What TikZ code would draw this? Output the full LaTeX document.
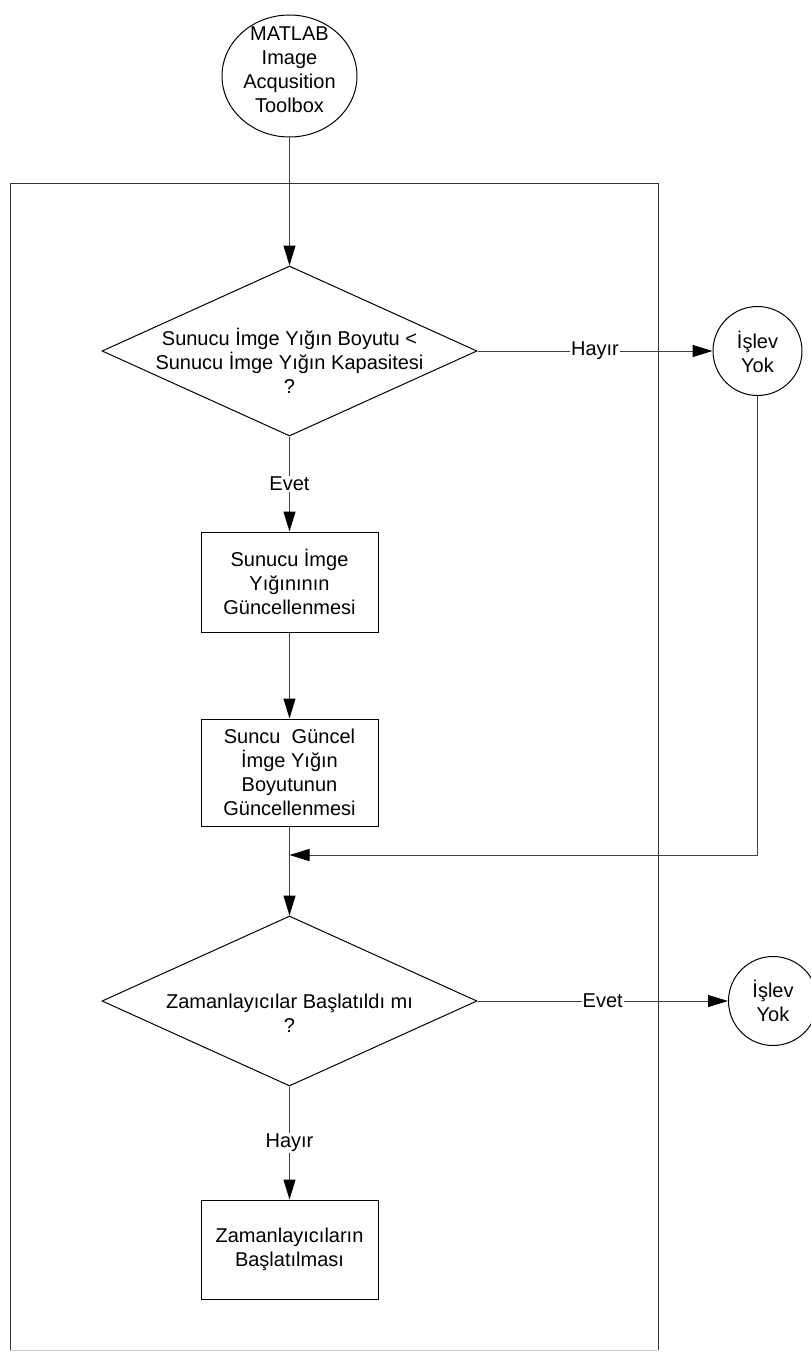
\documentclass[tikz,border=0pt]{standalone}
\usepackage{fontspec}
\setmainfont{Liberation Sans}
\usetikzlibrary{shapes.geometric,arrows.meta}
\begin{document}
\begin{tikzpicture}[x=1pt,y=-1pt,
  every node/.style={font=\fontsize{20}{24}\selectfont, align=center},
  terminal/.style={draw, ellipse, line width=1pt, inner sep=0pt, minimum width=135pt, minimum height=122pt},
  endcircle/.style={draw, circle, line width=1pt, inner sep=0pt, minimum size=89pt},
  decision/.style={draw, diamond, line width=1pt, inner sep=0pt, minimum width=375pt, minimum height=170pt},
  process/.style={draw, rectangle, line width=1pt, inner sep=0pt, minimum width=177pt},
  flow/.style={draw=black!75, line width=1pt, -{Triangle[length=20pt,width=12pt,color=black,fill=black]}},
  edgelabel/.style={fill=white, inner sep=1pt}]

\useasboundingbox (0,0) rectangle (811,1352);

% surrounding frame
\draw[black!80, line width=1pt] (10,1350) -- (10,183) -- (658,183) -- (658,1350);
\draw[black!20, line width=1pt] (10,1350) -- (658,1350);

% start terminal
\node[terminal] (start) at (289.5,76) {};
\node (starttext) at (289.5,70) {MATLAB\\Image\\Acqusition\\Toolbox};

% first decision
\node[decision] (d1) at (289.5,351) {};
\node (d1text) at (289.5,361) {Sunucu İmge Yığın Boyutu <\\Sunucu İmge Yığın Kapasitesi\\?};

% no-operation end points
\node[endcircle] (nf1) at (757.5,351) {};
\node (nf1text) at (757.5,352) {İşlev\\Yok};

% process boxes
\node[process, minimum height=100pt] (p1) at (289.5,582) {Sunucu İmge\\Yığınının\\Güncellenmesi};
\node[process, minimum height=107pt] (p2) at (289.5,772.5) {Suncu\ \ Güncel\\İmge Yığın\\Boyutunun\\Güncellenmesi};

% second decision
\node[decision] (d2) at (289.5,1001) {};
\node (d2text) at (289.5,1013) {Zamanlayıcılar Başlatıldı mı\\?};

\node[endcircle] (nf2) at (773,1001) {};
\node (nf2text) at (773,1001) {İşlev\\Yok};

\node[process, minimum height=99pt] (p3) at (289.5,1249.5) {Zamanlayıcıların\\Başlatılması};

\coordinate (merge) at (289.5,855);

% connectors
\draw[flow] (start) -- (d1.north);
\draw[flow] (d1.east) -- node[edgelabel]{Hayır} (nf1.west);
\draw[flow] (d1.south) -- node[edgelabel]{Evet} (p1.north);
\draw[flow] (p1) -- (p2);
\draw[flow] (p2) -- (d2.north);
\draw[flow] (nf1.south) |- (merge);
\draw[flow] (d2.east) -- node[edgelabel]{Evet} (nf2.west);
\draw[flow] (d2.south) -- node[edgelabel]{Hayır} (p3.north);
\end{tikzpicture}
\end{document}
